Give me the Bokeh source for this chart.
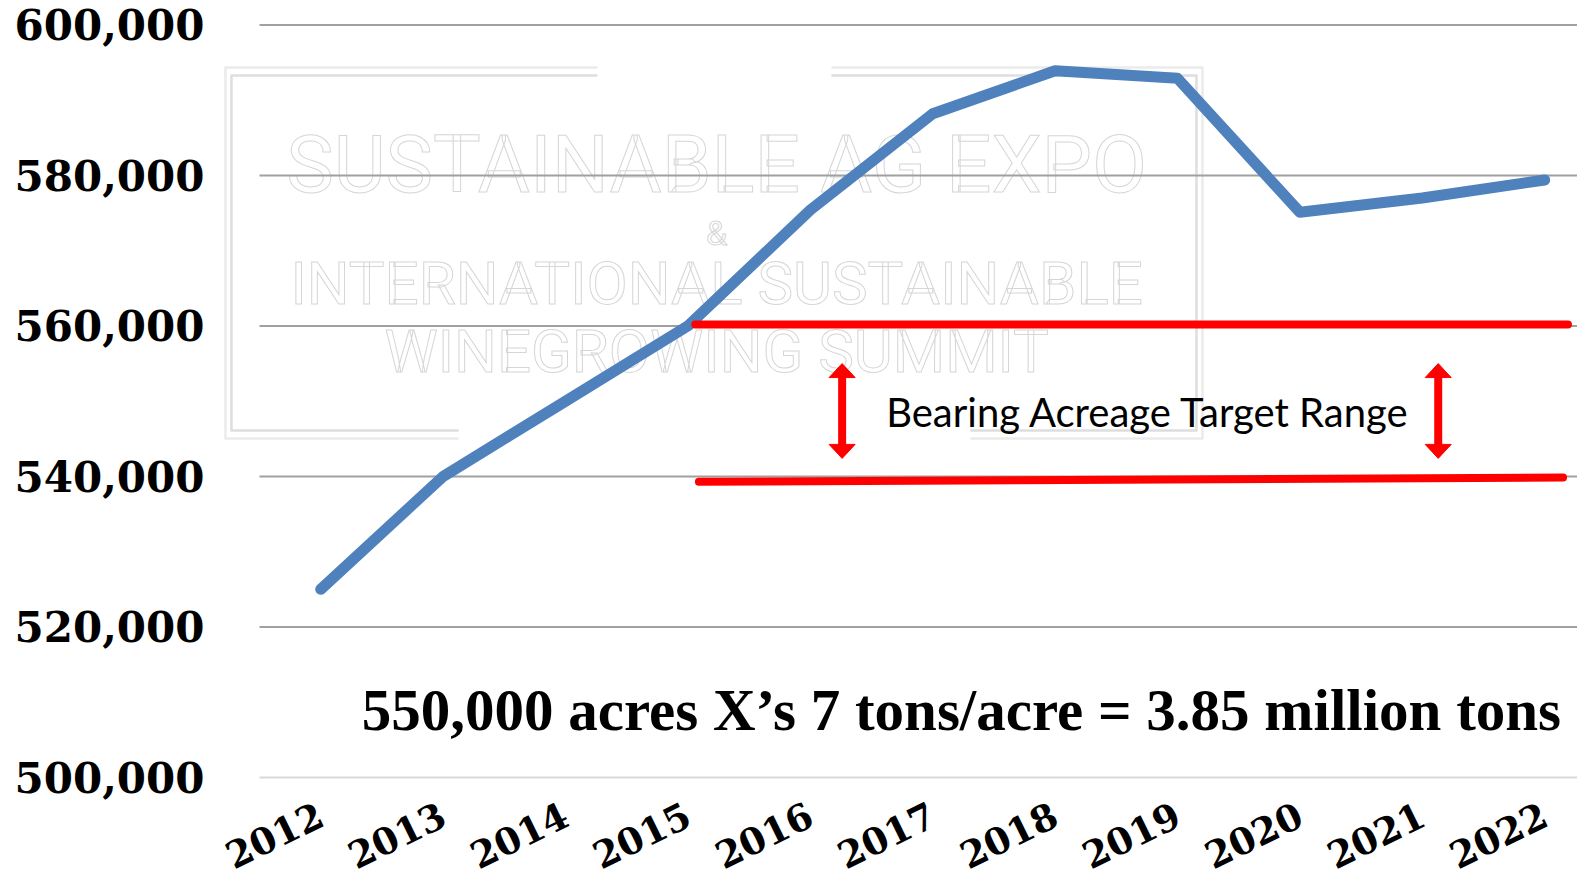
from bokeh.plotting import figure
from bokeh.models import Range1d, FixedTicker, NumeralTickFormatter, ColumnDataSource
from bokeh.core.properties import value
from bokeh.embed import file_html
from bokeh.resources import INLINE
import math

# ---------------- data ----------------
years = [2012, 2013, 2014, 2015, 2016, 2017, 2018, 2019, 2020, 2021, 2022]
bearing_acres = [525000, 540000, 550000, 560000, 575400, 588200, 593900, 592900, 575100, 577000, 579400]

y_ticks = [500000, 520000, 540000, 560000, 580000, 600000]
grid_colors = ["#d9d9d9", "#a0a0a0", "#a0a0a0", "#a0a0a0", "#a0a0a0", "#a0a0a0"]

target_upper_x = [2015.06, 2022.19]
target_upper_y = [560200, 560200]
target_lower_x = [2015.09, 2022.15]
target_lower_y = [539300, 539850]

arrow_x = [2016.26, 2021.13]
arrow_top = 555000
arrow_bottom = 542400

range_label = "Bearing Acreage Target Range"
range_label_x = 2016.62
range_label_y = 548600

note_text = "550,000 acres X\u2019s 7 tons/acre = 3.85 million tons"
note_x = 2012.335
note_y = 509000

watermark_lines = ["SUSTAINABLE AG EXPO", "&", "INTERNATIONAL SUSTAINABLE", "WINEGROWING SUMMIT"]
watermark_y = [581450, 572410, 565630, 556600]
watermark_sizes = ["80px", "34px", "60px", "60px"]
watermark_x = 2015.235

# watermark border (double frame with gaps at top and bottom)
wm_left = [2011.222, 2011.271]
wm_right = [2019.204, 2019.155]
wm_top = [594340, 593280]
wm_bottom = [545040, 546110]
wm_top_gap = [2014.253, 2016.181]
wm_bottom_gap = [2013.118, 2017.317]
wm_colors = ["#ebebeb", "#dedede"]

# ---------------- figure ----------------
W, H = 1577, 878
AXIS_X = 259          # pixel column where the plotting area starts
AXIS_Y = 777          # pixel row of the 500,000 baseline
px_per_x = 122.4
px_per_y = 150.5 / 20000
X0 = 2011.5                                  # data x at the plotting-area left edge
X_LEFT = X0 - AXIS_X / px_per_x              # canvas left edge
X_RIGHT = X0 + (W - AXIS_X) / px_per_x       # canvas right edge
Y_TOP = 600000 + 24.4 / px_per_y
Y_BOTTOM = 500000 - (H - AXIS_Y) / px_per_y

p = figure(width=W, height=H, output_backend="svg", toolbar_location=None,
           x_range=Range1d(X_LEFT, X_RIGHT), y_range=Range1d(Y_BOTTOM, Y_TOP),
           min_border_left=0, min_border_right=0, min_border_top=0,
           min_border_bottom=0)
p.outline_line_color = None
p.background_fill_color = "white"
p.border_fill_color = "white"
p.xgrid.visible = False
p.ygrid.visible = False

# watermark (behind everything)
bx, by, bc = [], [], []
for i in range(2):
    bx.append([wm_top_gap[0], wm_left[i], wm_left[i], wm_bottom_gap[0]])
    by.append([wm_top[i], wm_top[i], wm_bottom[i], wm_bottom[i]])
    bc.append(wm_colors[i])
    bx.append([wm_bottom_gap[1], wm_right[i], wm_right[i], wm_top_gap[1]])
    by.append([wm_bottom[i], wm_bottom[i], wm_top[i], wm_top[i]])
    bc.append(wm_colors[i])
r_box = p.multi_line(bx, by, line_color=bc, line_width=2.5, line_cap="round", line_join="round")
r_box.level = "image"

wm = ColumnDataSource(dict(x=[watermark_x] * 4, y=watermark_y, t=watermark_lines, s=watermark_sizes))
r_wm = p.text(x="x", y="y", text="t", source=wm, text_align="center", text_baseline="middle",
              text_font=value("Roboto"), text_font_size="s", text_color="white",
              text_outline_color="#d6d6d6")
r_wm.level = "image"

# horizontal gridlines at the y ticks, spanning the plotting area
gsrc = ColumnDataSource(dict(x0=[X0] * len(y_ticks), x1=[X_RIGHT] * len(y_ticks),
                             y=y_ticks, c=grid_colors))
p.segment(x0="x0", y0="y", x1="x1", y1="y", line_color="c", line_width=2,
          source=gsrc, level="underlay")

# axes placed at the plotting-area edges
p.yaxis.fixed_location = X0
p.yaxis.ticker = FixedTicker(ticks=y_ticks)
p.yaxis.formatter = NumeralTickFormatter(format="0,0")
p.yaxis.axis_line_color = None
p.yaxis.major_tick_line_color = None
p.yaxis.minor_tick_line_color = None
p.yaxis.major_label_standoff = 49
p.yaxis.major_label_text_font = "DejaVu Serif"
p.yaxis.major_label_text_font_style = "bold"
p.yaxis.major_label_text_font_size = "42px"
p.yaxis.major_label_text_color = "black"

p.xaxis.fixed_location = 500000
p.xaxis.ticker = FixedTicker(ticks=years)
p.xaxis.major_label_overrides = {y: str(y) for y in years}
p.xaxis.axis_line_color = None
p.xaxis.major_tick_line_color = None
p.xaxis.minor_tick_line_color = None
p.xaxis.major_label_orientation = math.radians(26)
p.xaxis.major_label_standoff = 29
p.xaxis.major_label_text_font = "DejaVu Serif"
p.xaxis.major_label_text_font_style = "bold"
p.xaxis.major_label_text_font_size = "37px"
p.xaxis.major_label_text_color = "black"

# data line
p.line(years, bearing_acres, line_color="#4f81bd", line_width=11,
       line_cap="round", line_join="round")

# target range lines
p.line(target_upper_x, target_upper_y, line_color="#ff0000", line_width=8, line_cap="round")
p.line(target_lower_x, target_lower_y, line_color="#ff0000", line_width=8, line_cap="round")

# double arrows
head_half_w = 13 / px_per_x
head_len = 14 / px_per_y
p.segment(x0=arrow_x, y0=[arrow_bottom + head_len * 0.8] * 2, x1=arrow_x,
          y1=[arrow_top - head_len * 0.8] * 2, line_color="#ff0000", line_width=8)
xs, ys = [], []
for ax in arrow_x:
    xs.append([ax - head_half_w, ax + head_half_w, ax])
    ys.append([arrow_top - head_len, arrow_top - head_len, arrow_top])
    xs.append([ax - head_half_w, ax + head_half_w, ax])
    ys.append([arrow_bottom + head_len, arrow_bottom + head_len, arrow_bottom])
p.patches(xs, ys, fill_color="#ff0000", line_color="#ff0000", line_width=1)

# labels
p.text(x=[range_label_x], y=[range_label_y], text=[range_label], text_font=value("Lato"),
       text_font_size="40px", text_color="black", text_baseline="middle", text_align="left")
p.text(x=[note_x], y=[note_y], text=[note_text], text_font=value("Liberation Serif"),
       text_font_style="bold", text_font_size="59px", text_color="black",
       text_baseline="middle", text_align="left")

open("out.html", "w").write(file_html(p, INLINE))
